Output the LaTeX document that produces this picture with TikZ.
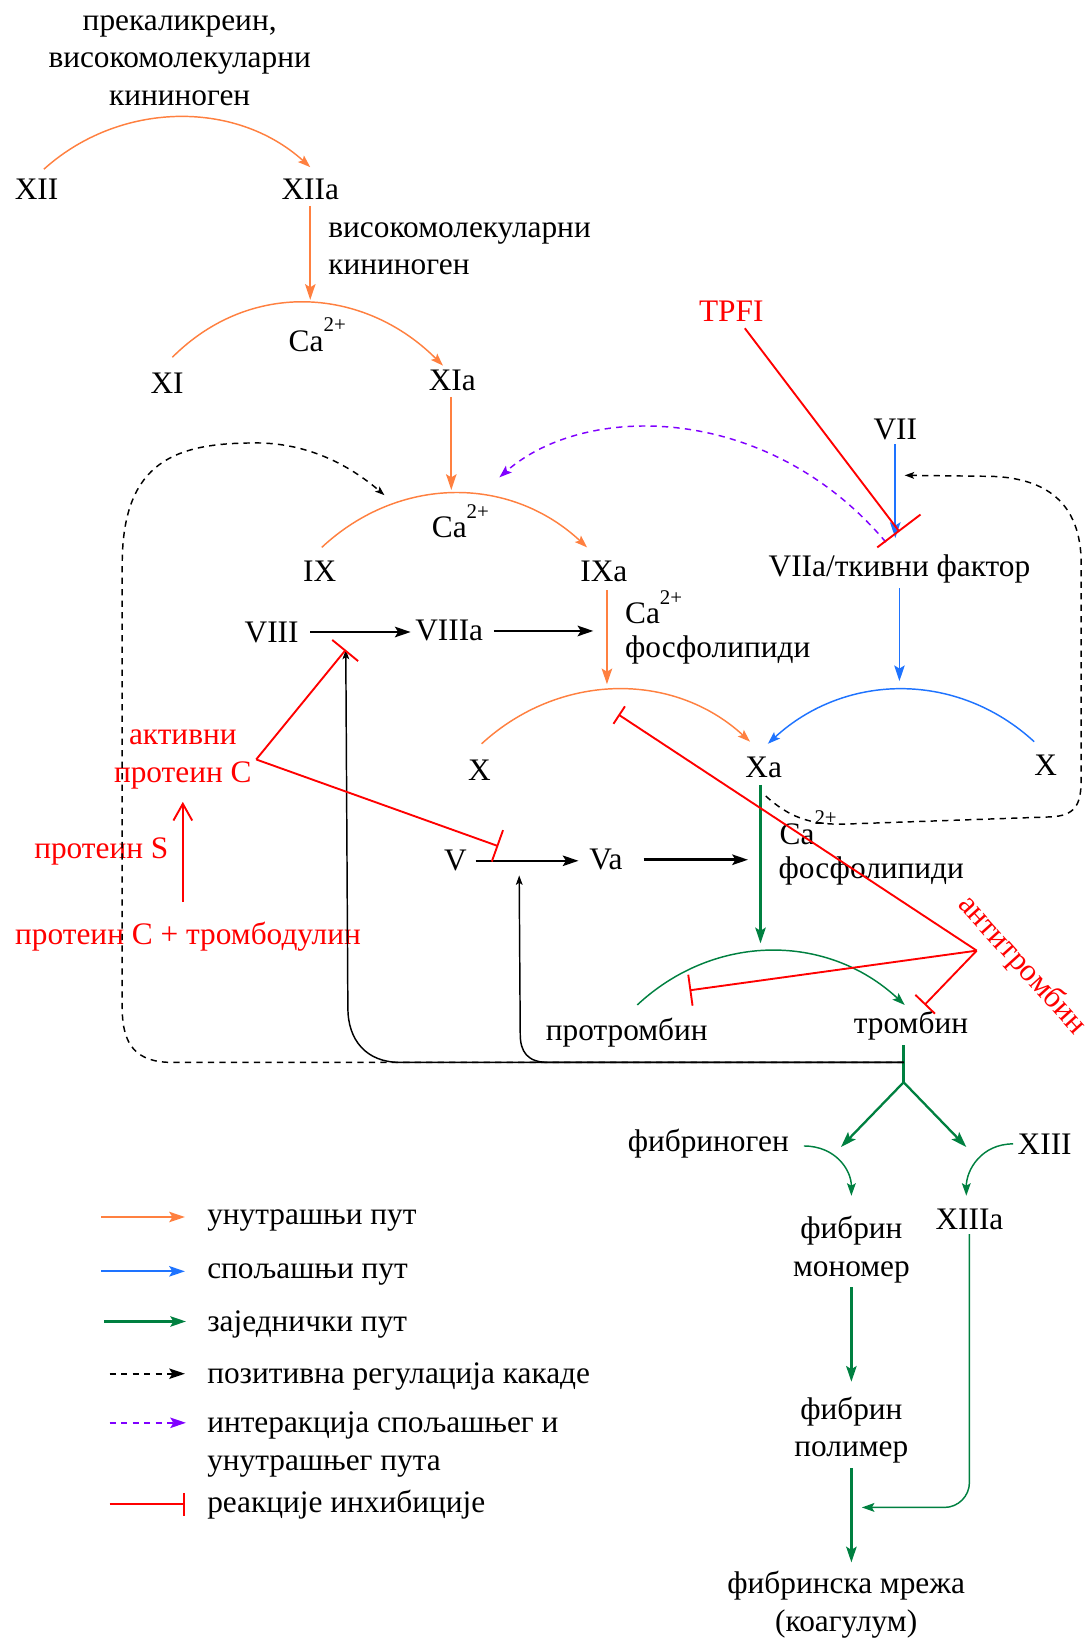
\documentclass[tikz,border=0pt]{standalone}
\usepackage{fontspec}
\setmainfont{Liberation Serif}
\usetikzlibrary{arrows.meta,calc}
\definecolor{intrinsic}{RGB}{255,128,64}
\definecolor{extrinsic}{RGB}{30,115,255}
\definecolor{common}{RGB}{0,128,64}
\definecolor{crosstalk}{RGB}{128,0,255}
\definecolor{inhib}{RGB}{255,0,0}
\newcommand{\twoplus}{\raisebox{0.62em}{\fontsize{10}{12}\selectfont 2+}}
\begin{document}
\begin{tikzpicture}[x=0.5pt,y=-0.5pt,
  every node/.style={inner sep=2pt,font=\fontsize{15}{18}\selectfont},
  inhtxt/.style={text=inhib},
  headS/.style={-{Stealth[length=6pt,width=4.2pt,inset=1.2pt]}},
  headM/.style={-{Stealth[length=7.5pt,width=5pt,inset=1.5pt]}},
  headT/.style={-{Stealth[length=4.5pt,width=3.2pt,inset=1pt]}},
  intarc/.style={draw=intrinsic,line width=0.7pt,headS},
  intstep/.style={draw=intrinsic,line width=0.9pt,headM},
  extarc/.style={draw=extrinsic,line width=0.7pt,headS},
  extstep/.style={draw=extrinsic,line width=0.9pt,headM},
  comarc/.style={draw=common,line width=0.7pt,headS},
  comstep/.style={draw=common,line width=1.1pt,headM},
  cofstep/.style={draw=black,line width=1.2pt,headM},
  feedback/.style={draw=black,line width=0.7pt,dash pattern=on 3pt off 2.5pt,headT},
  cross/.style={draw=crosstalk,line width=0.7pt,dash pattern=on 3pt off 2.5pt,headS},
  thrombinfb/.style={draw=black,line width=0.7pt,headT},
  inh/.style={draw=inhib,line width=0.9pt},
]
\useasboundingbox (0,0) rectangle (1045,1568);

% ---------- factors ----------
\node[align=center] (kal) at (172,58) {прекаликреин,\\високомолекуларни\\кининоген};
\node (XII) at (35,181) {XII};
\node (XIIa) at (297,181) {XIIa};
\node[align=left,anchor=west] (hmwk) at (310,238) {високомолекуларни\\кининоген};
\node (XI) at (160,367) {XI};
\node (XIa) at (433,364) {XIa};
\node[anchor=base west] (ca1) at (272,336) {Ca\twoplus};
\node (IX) at (306,547) {IX};
\node (IXa) at (578,547) {IXa};
\node[anchor=base west] (ca2) at (409,515) {Ca\twoplus};
\node[inhtxt] (tfpi) at (700,298) {TPFI};
\node (VII) at (857,411) {VII};
\node (VIIa) at (861,545) {VIIa/ткивни фактор};
\node (VIII) at (260,605) {VIII};
\node (VIIIa) at (430,604) {VIIIa};
\node[anchor=base west] (ca3) at (594,597) {Ca\twoplus};
\node[anchor=base west] (pl3) at (594,629) {фосфолипиди};
\node (Xl) at (459,737) {X};
\node (Xa) at (731,735) {Xa};
\node (Xr) at (1001,733) {X};
\node[inhtxt,align=center] (apc) at (175,727) {активни\\протеин С};
\node (V) at (436,824) {V};
\node (Va) at (580,823) {Va};
\node[anchor=base west] (ca4) at (742,808) {Ca\twoplus};
\node[anchor=base west] (pl4) at (741,841) {фосфолипиди};
\node[inhtxt] (ps) at (97,815) {протеин S};
\node[inhtxt] (pctm) at (180,897) {протеин С + тромбодулин};
\node[inhtxt,rotate=-48] (antith) at (978,924) {антитромбин};
\node (pt) at (600,988) {протромбин};
\node (thr) at (872,982) {тромбин};
\node (fbg) at (678,1095) {фибриноген};
\node (XIII) at (1000,1095) {XIII};
\node (XIIIa) at (928,1167) {XIIIa};
\node[align=center] (fmon) at (815,1196) {фибрин\\мономер};
\node[align=center] (fpol) at (815,1369) {фибрин\\полимер};
\node[align=center] (clot) at (810,1536) {фибринска мрежа\\(коагулум)};

% ---------- legend ----------
\node[anchor=west] (lg1) at (194,1168) {унутрашњи пут};
\node[anchor=west] (lg2) at (194,1220) {спољашњи пут};
\node[anchor=west] (lg3) at (194,1268) {заједнички пут};
\node[anchor=west] (lg4) at (194,1318) {позитивна регулација какаде};
\node[anchor=west,align=left] (lg5) at (194,1383) {интеракција спољашњег и\\унутрашњег пута};
\node[anchor=west] (lg6) at (194,1440) {реакције инхибиције};

% ---------- reaction points ----------
\coordinate (r12) at (297,287);
\coordinate (r11) at (432,469);
\coordinate (r9) at (581,655);
\coordinate (r8) at (568,604);
\coordinate (r7) at (857,515);
\coordinate (rtf) at (861,652);
\coordinate (r10) at (728,903);
\coordinate (r5) at (716,823);
\coordinate (act8) at (331,622);
\coordinate (act5) at (497,838);
\coordinate (jn) at (865,1017);
\coordinate (fork) at (865,1036);
\coordinate (cut1) at (805,1098);
\coordinate (cut2) at (925,1098);
\coordinate (mrg) at (825,1443);
\coordinate (tfbar) at (861,509);
\coordinate (vbar) at (477,810);
\coordinate (atj) at (935,910);
\coordinate (xbar) at (592,684);
\coordinate (pbar) at (660,948);
\coordinate (tbar) at (885,962);
\coordinate (xtA) at (848,519);
\coordinate (xtB) at (478,457);
\coordinate (fbIX) at (368,474);
\coordinate (fbX) at (733,762);
\coordinate (fbVII) at (866,455);

% ---------- intrinsic pathway ----------
\draw[intarc] ($(XII)+(7,-19)$) .. controls +(72,-65) and +(-72,-65) .. ($(XIIa)+(0,-21)$);
\draw[intstep] ($(XIIa)+(0,16)$) -- (r12);
\draw[intarc] ($(XI)+(5,-25)$) .. controls +(75,-75) and +(-75,-75) .. ($(XIa)+(-9,-14)$);
\draw[intstep] ($(XIa)+(-1,16)$) -- (r11);
\draw[intarc] ($(IX)+(2,-23)$) .. controls +(74,-69) and +(-74,-69) .. ($(IXa)+(-16,-23)$);
\draw[intstep] ($(IXa)+(3,18)$) -- (r9);
\draw[intarc] ($(Xl)+(2,-25)$) .. controls +(74,-68) and +(-74,-68) .. ($(Xa)+(-13,-25)$);

% ---------- extrinsic pathway ----------
\draw[extstep] (VII.south) -- (r7);
\draw[extstep] (VIIa.south) -- (rtf);
\draw[extarc] ($(Xr)+(-11,-23)$) .. controls +(-74,-68) and +(74,-68) .. ($(Xa)+(4,-23)$);

% ---------- cofactors ----------
\draw[cofstep,shorten <=3.5pt] (VIII.east) -- (VIII.east -| VIIIa.west);
\draw[cofstep] ($(VIIIa.east)+(6,0)$) -- (r8);
\draw[cofstep,shorten <=2pt,shorten >=3pt] (V.east) -- (V.east -| Va.west);
\draw[cofstep,shorten <=8pt] (Va.east) -- (r5);

% ---------- common pathway ----------
\draw[comstep] ($(Xa.south)+(-3,2)$) -- (r10);
\draw[comarc] ($(pt)+(10,-26)$) .. controls +(74,-69) and +(-74,-69) .. ($(thr)+(-6,-20)$);
\draw[common,line width=1.1pt] (thr.south -| jn) -- (fork);
\draw[comstep] (fork) -- (cut1);
\draw[comstep] (fork) -- (cut2);
\draw[comarc] ($(fbg.east)+(10,2)$) .. controls +(30,0) and +(0,-25) .. ($(fmon.north)+(0,-15)$);
\draw[comarc] (XIII.west) .. controls +(-30,0) and +(0,-25) .. ($(XIIIa.north)+(-3,-8)$);
\draw[comstep,shorten >=5pt] (fmon) -- (fpol);
\draw[comstep,shorten >=2pt] (fpol.south) -- (fpol.south |- clot.north);
\draw[comarc,rounded corners=12pt] (XIIIa.south) -- (XIIIa.south |- mrg) -- (mrg);

% ---------- thrombin feedback ----------
\draw[feedback] (jn) -- (165,1017) .. controls (130,1017) and (117,1000) .. (117,965) -- (117,540)
  .. controls (117,440) and (170,424) .. (245,424) .. controls (300,424) and (340,450) .. (fbIX);
\draw[thrombinfb] (jn) -- (383,1017) .. controls (350,1017) and (333,995) .. (333,965) -- (act8);
\draw[thrombinfb] (jn) -- (525,1017) .. controls (505,1017) and (498,1007) .. (498,990) -- (act5);
\draw[feedback] (fbX) .. controls (755,782) and (775,789) .. (805,789) -- (1005,782)
  .. controls (1030,781) and (1035,770) .. (1035,745) -- (1035,540)
  .. controls (1035,480) and (1000,458) .. (950,456) -- (fbVII);

% ---------- extrinsic / intrinsic interaction ----------
\draw[cross] (xtA) .. controls (735,385) and (560,385) .. (xtB);

% ---------- inhibition ----------
\draw[inh,-{Bar[width=26pt]}] ($(tfpi.south)+(13,2)$) -- (tfbar);
\draw[inh,-{Bar[width=16pt]}] (apc.east) -- (act8);
\draw[inh,-{Bar[width=16pt]}] (apc.east) -- (vbar);
\draw[inh,-{Bar[width=10pt]}] (atj) -- (xbar);
\draw[inh,-{Bar[width=15pt]}] (atj) -- (pbar);
\draw[inh,-{Bar[width=13pt]}] (atj) -- (tbar);
\draw[inh,-{Straight Barb[length=8pt,width=9pt]}] ($(pctm.north)+(-5,-15)$) -- ($(apc.south)+(0,8)$);

% ---------- legend samples ----------
\draw[draw=intrinsic,line width=1pt,headM] ($(lg1.west)+(-97,-3)$) -- ++(80,0);
\draw[draw=extrinsic,line width=1pt,headM] ($(lg2.west)+(-97,-3)$) -- ++(80,0);
\draw[draw=common,line width=1pt,headM] ($(lg3.west)+(-94,-3)$) -- ++(78,0);
\draw[draw=black,line width=0.8pt,dash pattern=on 3pt off 2.5pt,headM] ($(lg4.west)+(-89,-3)$) -- ++(72,0);
\draw[draw=crosstalk,line width=0.8pt,dash pattern=on 3pt off 2.5pt,headM] ($(lg5.west)+(-89,-21)$) -- ++(73,0);
\draw[inh,-{Bar[width=11pt]}] ($(lg6.west)+(-89,0)$) -- ++(72,0);
\end{tikzpicture}
\end{document}
